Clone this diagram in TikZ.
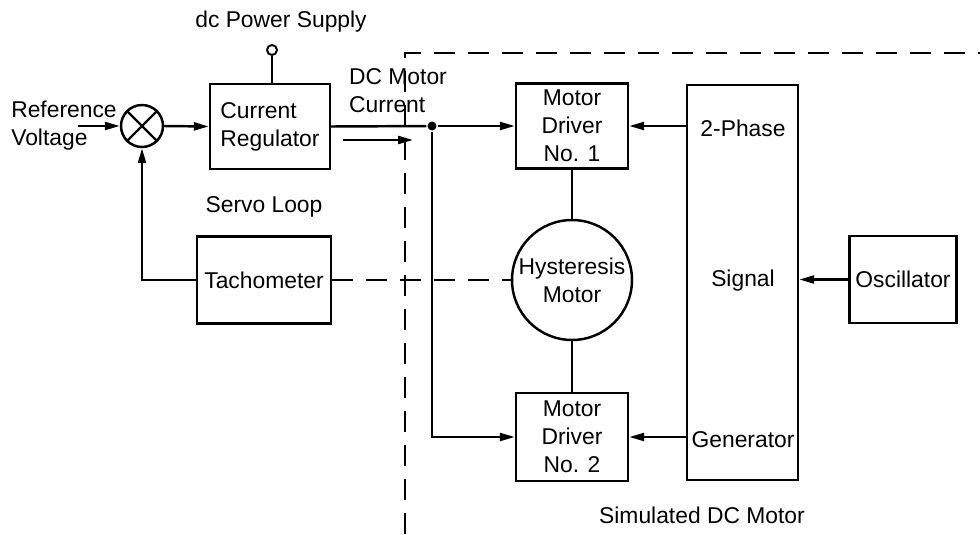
\documentclass[tikz,border=0pt]{standalone}
\usepackage{fontspec}
\setmainfont{Liberation Sans}
\usetikzlibrary{arrows.meta}
\begin{document}
\begin{tikzpicture}[x=0.02cm, y=-0.02cm, line width=1.4pt,
        every node/.style={font=\fontsize{13}{16}\selectfont, inner sep=1pt},
        block/.style={draw, rectangle, align=center},
        wire/.style={-{Triangle[length=3mm, width=1.6mm]}},
        sense/.style={dash pattern=on 0.42cm off 0.26cm}]
        \useasboundingbox (0,0) rectangle (980,534);
        % servo loop
        \node[draw, circle, minimum size=0.84cm, inner sep=0pt] (sum) at (142,126) {};
        \draw (sum.45) -- (sum.225) (sum.135) -- (sum.315);
        \node[align=left] (ref) at (64,126) {Reference\\Voltage};
        \coordinate (refin) at (78,126);
        \draw[wire] (refin) -- (sum.west);
        \node[block, align=left, minimum width=2.4cm, minimum height=1.7cm] (reg) at (270,126.5) {Current\\Regulator};
        \draw[wire] (sum.east) -- (reg.west);
        \node[draw, circle, inner sep=0pt, minimum size=0.2cm, line width=1.1pt] (psu) at (272,50) {};
        \node (psulbl) at (281,22) {dc Power Supply};
        \draw (psu.south) -- (psu.south |- reg.north);
        \node (servo) at (264,207) {Servo Loop};
        \node[block, minimum width=2.68cm, minimum height=1.74cm] (tach) at (264,280) {Tachometer};
        \draw[wire] (tach.west) -| (sum.south);
        % motor current
        \node[fill, circle, inner sep=0pt, minimum size=0.18cm] (dot) at (432,126) {};
        \draw (reg.east) -- (dot);
        \node[align=left] (dcmc) at (398,91) {DC Motor\\Current};
        \coordinate (ia) at (343,140);
        \coordinate (ib) at (413,140);
        \draw[wire] (ia) -- (ib);
        \draw[sense] (405,534) -- (405,53) -- (980,53);
        % simulated dc motor
        \node[block, minimum width=2.24cm, minimum height=1.7cm] (md1) at (572,126) {Motor\\Driver\\No. 1};
        \node[block, minimum width=2.24cm, minimum height=1.76cm] (md2) at (572,437) {Motor\\Driver\\No. 2};
        \node[draw, circle, align=center, minimum size=2.4cm, inner sep=0pt] (hyst) at (572,280) {Hysteresis\\Motor};
        \node[block, minimum width=2.22cm, minimum height=7.9cm] (sig) at (742.5,282.5) {};
        \foreach \n/\y/\t in {ph/128/2-Phase, sg/281/Signal, gn/440/Generator} {
            \node (\n) at (743,\y) {\t};
        }
        \node[block, minimum width=2.14cm, minimum height=1.74cm] (osc) at (903,279.5) {Oscillator};
        \draw[wire] (dot) -- (md1.west);
        \draw[wire] (dot) |- (md2.west);
        \draw[wire] (sig.west |- md1) -- (md1.east);
        \draw[wire] (sig.west |- md2) -- (md2.east);
        \draw[wire] (osc.west) -- (osc.west -| sig.east);
        \draw (md1.south) -- (hyst.north);
        \draw (hyst.south) -- (md2.north);
        \draw[sense] (tach.east) -- (hyst.west);
        \node (simlbl) at (702,515) {Simulated DC Motor};
    \end{tikzpicture}
\end{document}
